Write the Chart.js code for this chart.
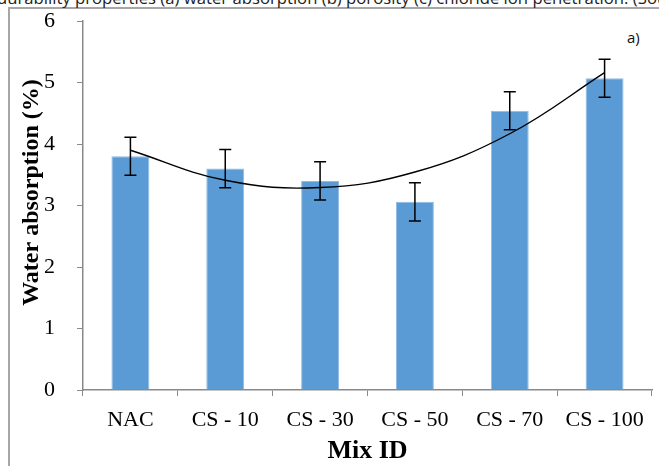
<!DOCTYPE html>
<html>
<head>
<meta charset="utf-8">
<script src="https://cdn.jsdelivr.net/npm/chart.js@4.4.1/dist/chart.umd.min.js"></script>
<style>
  body { margin: 0; background: #fff; overflow: hidden; }
  #wrap { position: relative; width: 659px; height: 466px; }
  #frame { position: absolute; left: 8px; top: 7px; right: -10px; bottom: -10px;
           border-left: 2px solid #a6a6a6; border-top: 2px solid #a6a6a6; }
  #caption { position: absolute; left: -3px; top: -14px; white-space: nowrap;
             font: 16.7px "Open Sans", sans-serif; color: #222; }
  #panel { position: absolute; left: 627px; top: 27px; font: 15px "Open Sans", sans-serif; color: #111; }
  canvas { position: absolute; left: 0; top: 0; }
</style>
</head>
<body>
<div id="wrap">
  <div id="frame"></div>
  <div id="caption">durability properties (a) water absorption (b) porosity (c) chloride ion penetration. (Source</div>
  <div id="panel">a)</div>
  <canvas id="waterAbsorption" width="659" height="466"></canvas>
</div>
<script>
var mixIds = ['NAC', 'CS - 10', 'CS - 30', 'CS - 50', 'CS - 70', 'CS - 100'];
var absorption = [3.8, 3.6, 3.4, 3.06, 4.54, 5.07];
var absorptionErr = [0.31, 0.31, 0.31, 0.31, 0.31, 0.31];
var yTicks = [0, 1, 2, 3, 4, 5, 6];
var yTitle = 'Water absorption (%)';

// 2nd order polynomial trendline (least squares), evaluated at each mix
function polyTrend(ys) {
  var n = ys.length, mid = (n + 1) / 2;
  var s2 = 0, s4 = 0, sy = 0, sty = 0, st2y = 0;
  ys.forEach(function(y, i) {
    var t = i + 1 - mid;
    s2 += t * t; s4 += t * t * t * t;
    sy += y; sty += t * y; st2y += t * t * y;
  });
  var b = sty / s2;
  var c = (st2y - s2 * sy / n) / (s4 - s2 * s2 / n);
  var a = (sy - c * s2) / n;
  return ys.map(function(y, i) {
    var t = i + 1 - mid;
    return a + b * t + c * t * t;
  });
}
var trend = polyTrend(absorption);

var serif = 'Liberation Serif';
var axisGray = '#898989';

var errorBars = {
  id: 'errorBars',
  afterDatasetsDraw: function(chart) {
    var ctx = chart.ctx;
    var meta = chart.getDatasetMeta(1);
    var y = chart.scales.y;
    ctx.save();
    ctx.strokeStyle = '#000';
    ctx.lineWidth = 1.5;
    meta.data.forEach(function(bar, i) {
      var hi = y.getPixelForValue(absorption[i] + absorptionErr[i]);
      var lo = y.getPixelForValue(absorption[i] - absorptionErr[i]);
      ctx.beginPath();
      ctx.moveTo(bar.x, hi); ctx.lineTo(bar.x, lo);
      ctx.moveTo(bar.x - 6, hi); ctx.lineTo(bar.x + 6, hi);
      ctx.moveTo(bar.x - 6, lo); ctx.lineTo(bar.x + 6, lo);
      ctx.stroke();
    });
    ctx.restore();
  }
};

// y title sits a little above the middle of the plot area
var sideTitle = {
  id: 'sideTitle',
  afterDraw: function(chart) {
    var ctx = chart.ctx, area = chart.chartArea;
    ctx.save();
    ctx.translate(32, (area.top + area.bottom) / 2 - 13);
    ctx.rotate(-Math.PI / 2);
    ctx.font = 'bold 24px ' + serif;
    ctx.fillStyle = '#000';
    ctx.textAlign = 'center';
    ctx.textBaseline = 'middle';
    ctx.fillText(yTitle, 0, 0);
    ctx.restore();
  }
};

new Chart(document.getElementById('waterAbsorption'), {
  type: 'bar',
  data: {
    labels: mixIds,
    datasets: [
      {
        type: 'line',
        label: 'Poly. trend',
        data: trend,
        borderColor: '#000',
        borderWidth: 1.4,
        pointRadius: 0,
        tension: 0.4,
        fill: false
      },
      {
        label: 'Water absorption',
        data: absorption,
        backgroundColor: '#5b9bd5',
        borderColor: '#8fbbe4',
        borderWidth: 1,
        categoryPercentage: 1,
        barPercentage: 0.4
      }
    ]
  },
  options: {
    responsive: false,
    animation: false,
    layout: { padding: { top: 21, right: 7, left: 0, bottom: 0 } },
    plugins: {
      legend: { display: false },
      tooltip: { enabled: false }
    },
    scales: {
      x: {
        afterFit: function(s) { s.height = 76; s.paddingLeft = 0; s.paddingRight = 0; },
        grid: { offset: true, drawOnChartArea: false, color: axisGray, tickLength: 6 },
        border: { color: axisGray, width: 1.5 },
        ticks: { color: '#000', font: { family: serif, size: 22 }, padding: 11, maxRotation: 0 },
        title: {
          display: true, text: 'Mix ID', color: '#000',
          font: { family: serif, size: 26, weight: 'bold' },
          padding: { top: 0, bottom: -1 }
        }
      },
      y: {
        min: 0,
        max: 6,
        afterFit: function(s) { s.width = 83; s.paddingTop = 0; s.paddingBottom = 0; },
        afterBuildTicks: function(s) { s.ticks = yTicks.map(function(v) { return { value: v }; }); },
        grid: { drawOnChartArea: false, color: axisGray, tickLength: 6 },
        border: { color: axisGray, width: 1.5 },
        ticks: { color: '#000', font: { family: serif, size: 22 }, padding: 22 }
      }
    }
  },
  plugins: [errorBars, sideTitle]
});
</script>
</body>
</html>
